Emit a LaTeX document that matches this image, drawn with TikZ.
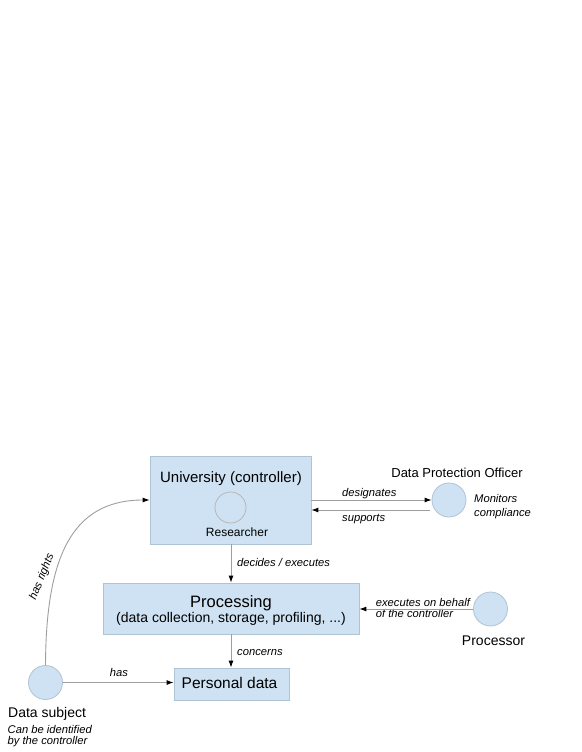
\documentclass[tikz,border=0pt]{standalone}
\usepackage{fontspec}
\setmainfont{Liberation Sans}
\usetikzlibrary{arrows.meta}
\definecolor{boxfill}{HTML}{CFE2F3}
\definecolor{boxborder}{HTML}{AFC3D2}
\definecolor{linegray}{HTML}{9E9E9E}
\definecolor{resgray}{HTML}{B7B7B7}
\tikzset{
  box/.style={draw=boxborder, fill=boxfill, line width=0.8pt, inner sep=0pt},
  circ/.style={circle, draw=boxborder, fill=boxfill, line width=0.8pt, minimum size=34pt, inner sep=0pt},
  conn/.style={draw=linegray, line width=0.9pt, -{Latex[length=7pt,width=5pt,color=black]}},
  lbl/.style={font=\fontsize{11.2}{13}\selectfont\itshape, inner sep=0pt},
  txt/.style={inner sep=0pt, anchor=base}
}
\begin{document}
\begin{tikzpicture}[x=1pt,y=-1pt]
\useasboundingbox (0,0) rectangle (581,752);
% boxes
\node[box, minimum width=161pt, minimum height=88pt] (univ) at (230.5,500) {};
\node[box, minimum width=256pt, minimum height=51pt] (proc) at (231,608.5) {};
\node[box, minimum width=115pt, minimum height=32pt] (pd) at (231.5,684) {};
% circles
\node[circle, draw=resgray, line width=0.8pt, minimum size=31pt, inner sep=0pt] (res) at (230.5,507.5) {};
\node[circ] (dpo) at (449,500) {};
\node[circ] (procr) at (490.5,609) {};
\node[circ] (ds) at (45.5,682.5) {};
% texts
\node[txt, font=\fontsize{15}{18}\selectfont] (univt) at (231,482) {University (controller)};
\node[txt, font=\fontsize{12}{14}\selectfont] (rest) at (237,536) {Researcher};
\node[txt, font=\fontsize{16.5}{19}\selectfont] (proct) at (231,607) {Processing};
\node[txt, font=\fontsize{14}{17}\selectfont] (procs) at (231,622) {(data collection, storage, profiling, ...)};
\node[txt, font=\fontsize{15.5}{18}\selectfont] (pdt) at (229.5,688.3) {Personal data};
\node[txt, font=\fontsize{13}{16}\selectfont] (dpot) at (457,477) {Data Protection Officer};
\node[lbl, anchor=base west] (mon) at (474,502) {Monitors};
\node[lbl, anchor=base west] (comp) at (474,516) {compliance};
\node[txt, font=\fontsize{14}{17}\selectfont] (procrt) at (493.5,645) {Processor};
\node[txt, anchor=base west, font=\fontsize{14}{17}\selectfont] (dst) at (8,717) {Data subject};
\node[lbl, anchor=base west] (ds1) at (7.5,733) {Can be identified};
\node[lbl, anchor=base west] (ds2) at (7.5,744.5) {by the controller};
% connector labels
\node[lbl, anchor=base west] (ldes) at (342,496.7) {designates};
\node[lbl, anchor=base west] (lsup) at (342,521.5) {supports};
\node[lbl, anchor=base west] (ldec) at (237,566) {decides / executes};
\node[lbl, anchor=base west] (lcon) at (237,655) {concerns};
\node[lbl, anchor=base] (lhas) at (119,676) {has};
\node[lbl, anchor=base west] (lex1) at (375.7,606) {executes on behalf};
\node[lbl, anchor=base west] (lex2) at (375.7,617.7) {of the controller};
\node[lbl, rotate=68] (lrights) at (42,577) {has rights};
% connectors
\draw[conn] (univ.east) -- (dpo.west);
\coordinate (sp) at ([shift={(-2,10)}]dpo.west);
\draw[conn] (sp) -- (sp -| univ.east);
\draw[conn] (proc.north |- univ.south) -- (proc.north);
\draw[conn] (proc.south) -- (proc.south |- pd.north);
\draw[conn] (procr.west) -- (procr.west -| proc.east);
\draw[conn] (ds.east) -- (ds.east -| pd.west);
\draw[conn] (ds.north) .. controls (46,560) and (70,500) .. (univ.west);
\end{tikzpicture}
\end{document}
